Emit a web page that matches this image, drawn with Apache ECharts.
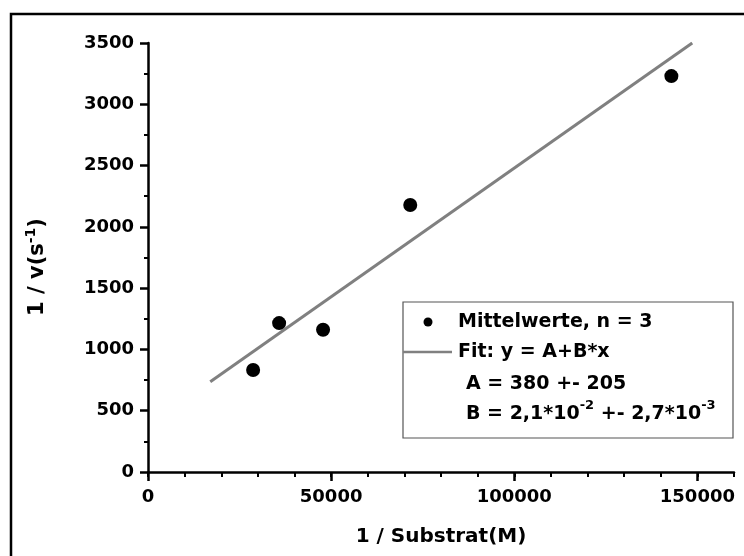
<!DOCTYPE html>
<html>
<head>
<meta charset="utf-8">
<script src="https://cdn.jsdelivr.net/npm/echarts@6/dist/echarts.min.js"></script>
<style>
  html, body { margin: 0; padding: 0; background: #fff; }
  #chart { width: 744px; height: 556px; }
</style>
</head>
<body>
<div id="chart"></div>
<script>
// Mean values of the Lineweaver-Burk style plot
const substratInv = [28700, 35800, 47800, 71600, 142900];
const rateInv = [832, 1215, 1160, 2178, 3230];

// Linear fit parameters y = A + B*x
const fitA = 380;
const fitB = 0.021;
const fitXRange = [17000, 148600];

// Axis tick values
const xMajorTicks = [0, 50000, 100000, 150000];
const yMajorTicks = [0, 500, 1000, 1500, 2000, 2500, 3000, 3500];

const FONT = '"DejaVu Sans", "Liberation Sans", Arial, sans-serif';

const chart = echarts.init(document.getElementById('chart'), null, { renderer: 'canvas' });

const fitData = fitXRange.map(x => [x, fitA + fitB * x]);

const option = {
  backgroundColor: '#ffffff',
  animation: false,
  grid: { left: 148, right: 10, top: 43, bottom: 84, containLabel: false },
  xAxis: [
    {
      type: 'value', min: 0, max: 160000, interval: 50000,
      axisLine: { show: true, onZero: false, lineStyle: { color: '#000', width: 2.5 } },
      axisTick: { show: true, inside: false, length: 9, customValues: xMajorTicks, lineStyle: { color: '#000', width: 2.5 } },
      axisLabel: {
        show: true, margin: 16, customValues: xMajorTicks,
        fontFamily: FONT, fontWeight: 'bold', fontSize: 18, color: '#000',
        formatter: v => String(v)
      },
      splitLine: { show: false },
      name: '1 / Substrat(M)', nameLocation: 'middle', nameGap: 55,
      nameTextStyle: { fontFamily: FONT, fontWeight: 'bold', fontSize: 20, color: '#000' }
    },
    {
      // short intermediate ticks every 10000
      type: 'value', min: 0, max: 160000, interval: 10000, position: 'bottom',
      axisLine: { show: false },
      axisTick: { show: true, inside: false, length: 5, lineStyle: { color: '#000', width: 2 } },
      axisLabel: { show: false },
      splitLine: { show: false }
    }
  ],
  yAxis: {
    type: 'value', min: 0, max: 3500, interval: 500,
    axisLine: { show: true, onZero: false, lineStyle: { color: '#000', width: 2.5 } },
    axisTick: { show: true, inside: false, length: 8, lineStyle: { color: '#000', width: 2.5 } },
    minorTick: { show: true, splitNumber: 2, length: 4, lineStyle: { color: '#000', width: 2 } },
    axisLabel: {
      show: true, margin: 14,
      fontFamily: FONT, fontWeight: 'bold', fontSize: 18, color: '#000',
      formatter: v => String(v)
    },
    splitLine: { show: false }
  },
  series: [
    {
      name: 'Fit', type: 'line', data: fitData, showSymbol: false, symbol: 'none',
      lineStyle: { color: '#808080', width: 3 }, z: 2, silent: true
    },
    {
      name: 'Mittelwerte', type: 'scatter',
      data: substratInv.map((x, i) => [x, rateInv[i]]),
      symbol: 'circle', symbolSize: 14,
      itemStyle: { color: '#000', opacity: 1 }, z: 3, silent: true
    }
  ],
  graphic: [
    // outer frame
    {
      type: 'rect', silent: true, z: 100,
      shape: { x: 11, y: 14, width: 745, height: 600 },
      style: { fill: 'none', stroke: '#000', lineWidth: 2.5 }
    },
    // y axis title
    {
      type: 'text', silent: true, z: 100,
      x: 38, y: 267, rotation: Math.PI / 2,
      style: {
        text: '{m|1 / v(s}{s|-1}{m|)}',
        align: 'center', verticalAlign: 'middle',
        rich: {
          m: { fontFamily: FONT, fontWeight: 'bold', fontSize: 21, fill: '#000', lineHeight: 28 },
          s: { fontFamily: FONT, fontWeight: 'bold', fontSize: 14, fill: '#000', lineHeight: 28, verticalAlign: 'top' }
        }
      }
    },
    // legend box
    {
      type: 'rect', silent: true, z: 100,
      shape: { x: 403, y: 302, width: 330, height: 136 },
      style: { fill: '#fff', stroke: '#555', lineWidth: 1.2 }
    },
    {
      type: 'circle', silent: true, z: 101,
      shape: { cx: 428, cy: 322, r: 4.5 },
      style: { fill: '#000' }
    },
    {
      type: 'line', silent: true, z: 101,
      shape: { x1: 403, y1: 352, x2: 452, y2: 352 },
      style: { stroke: '#808080', lineWidth: 2.5 }
    },
    {
      type: 'text', silent: true, z: 101, x: 458, y: 322,
      style: { text: 'Mittelwerte, n = 3', font: 'bold 19px ' + FONT, fill: '#000', verticalAlign: 'middle' }
    },
    {
      type: 'text', silent: true, z: 101, x: 458, y: 352,
      style: { text: 'Fit: y = A+B*x', font: 'bold 19px ' + FONT, fill: '#000', verticalAlign: 'middle' }
    },
    {
      type: 'text', silent: true, z: 101, x: 466, y: 384,
      style: { text: 'A = 380 +- 205', font: 'bold 19px ' + FONT, fill: '#000', verticalAlign: 'middle' }
    },
    {
      type: 'text', silent: true, z: 101, x: 466, y: 414,
      style: {
        text: '{m|B = 2,1*10}{s|-2}{m| +- 2,7*10}{s|-3}',
        verticalAlign: 'middle',
        rich: {
          m: { fontFamily: FONT, fontWeight: 'bold', fontSize: 19, fill: '#000', lineHeight: 30 },
          s: { fontFamily: FONT, fontWeight: 'bold', fontSize: 13, fill: '#000', lineHeight: 30, verticalAlign: 'top' }
        }
      }
    }
  ]
};

chart.setOption(option);
</script>
</body>
</html>
